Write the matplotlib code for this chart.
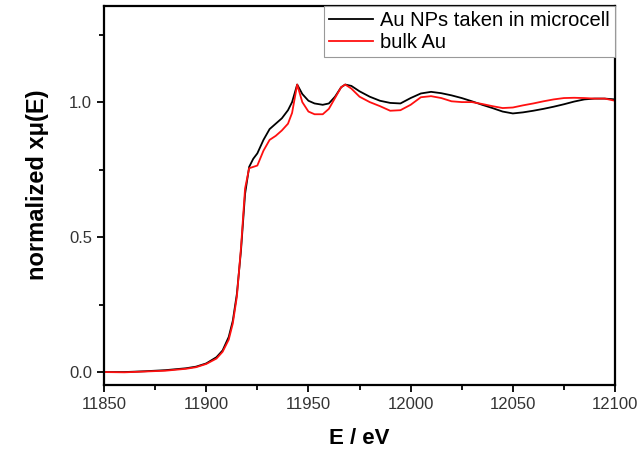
import matplotlib
matplotlib.use("Agg")
import matplotlib.pyplot as plt
from matplotlib.ticker import MultipleLocator

plt.rcParams['font.family'] = ['Liberation Sans', 'DejaVu Sans']

# energy grid (eV)
energy = [11850, 11860, 11870, 11880, 11890, 11895, 11900, 11905, 11908, 11911,
          11913, 11915, 11917, 11919, 11921, 11923, 11925, 11928, 11931, 11934,
          11937, 11940, 11942, 11944.5, 11947, 11950, 11953, 11957, 11960, 11963,
          11966, 11968, 11971, 11975, 11980, 11985, 11990, 11995, 12000, 12005,
          12010, 12015, 12020, 12025, 12030, 12035, 12040, 12045, 12050, 12055,
          12060, 12065, 12070, 12075, 12080, 12085, 12090, 12095, 12100]

# Au NPs taken in microcell (black)
np_au = [0.0, 0.0, 0.003, 0.007, 0.014, 0.02, 0.032, 0.055, 0.08, 0.13,
         0.19, 0.29, 0.45, 0.66, 0.76, 0.79, 0.81, 0.86, 0.90, 0.92,
         0.94, 0.97, 1.00, 1.065, 1.03, 1.005, 0.995, 0.99, 0.995, 1.02,
         1.055, 1.065, 1.06, 1.04, 1.02, 1.005, 0.997, 0.995, 1.015, 1.032,
         1.038, 1.033, 1.025, 1.015, 1.003, 0.99, 0.978, 0.965, 0.958, 0.962,
         0.968, 0.975, 0.983, 0.992, 1.002, 1.01, 1.013, 1.013, 1.01]

# bulk Au (red)
bulk_au = [0.0, -0.001, 0.002, 0.005, 0.012, 0.018, 0.03, 0.05, 0.075, 0.12,
           0.18, 0.28, 0.46, 0.68, 0.755, 0.76, 0.765, 0.82, 0.86, 0.875,
           0.895, 0.92, 0.96, 1.065, 1.0, 0.965, 0.955, 0.955, 0.975, 1.015,
           1.055, 1.065, 1.05, 1.02, 1.0, 0.985, 0.968, 0.97, 0.99, 1.018,
           1.022, 1.015, 1.003, 1.0, 1.0, 0.993, 0.985, 0.978, 0.98, 0.988,
           0.995, 1.003, 1.01, 1.015, 1.016, 1.015, 1.013, 1.013, 1.005]

fig = plt.figure(figsize=(6.39, 4.51), dpi=100)
ax = fig.add_axes([0.1628, 0.1463, 0.7997, 0.8404])

ax.plot(energy, np_au, color='black', lw=1.3, label='Au NPs taken in microcell')
ax.plot(energy, bulk_au, color='#ff1010', lw=1.3, label='bulk Au')

ax.set_xlim(11850, 12100)
ax.set_ylim(-0.048, 1.356)
ax.xaxis.set_major_locator(MultipleLocator(50))
ax.xaxis.set_minor_locator(MultipleLocator(25))
ax.yaxis.set_major_locator(MultipleLocator(0.5))
ax.yaxis.set_minor_locator(MultipleLocator(0.25))
ax.yaxis.set_major_formatter(plt.FormatStrFormatter('%.1f'))

for s in ax.spines.values():
    s.set_linewidth(1.6)
ax.tick_params(which='both', direction='out', width=1.3, labelsize=12, colors='black')
ax.tick_params(which='major', length=5)
ax.tick_params(which='minor', length=3.5)
ax.tick_params(labelcolor='#333333')

ax.set_xlabel('E / eV', fontsize=16, fontweight='bold', labelpad=12)
ax.set_ylabel('normalized x\u03bc(E)', fontsize=17, fontweight='bold')
ax.yaxis.set_label_coords(-0.108, 0.528)

leg = ax.legend(loc='upper right', borderaxespad=0, fontsize=14.5, fancybox=False,
                handlelength=2.2, labelspacing=0.15, handletextpad=0.35,
                borderpad=0.25, framealpha=1)
leg.get_frame().set_edgecolor('#999999')
leg.get_frame().set_linewidth(0.8)

fig.savefig('out.png', dpi=100)
